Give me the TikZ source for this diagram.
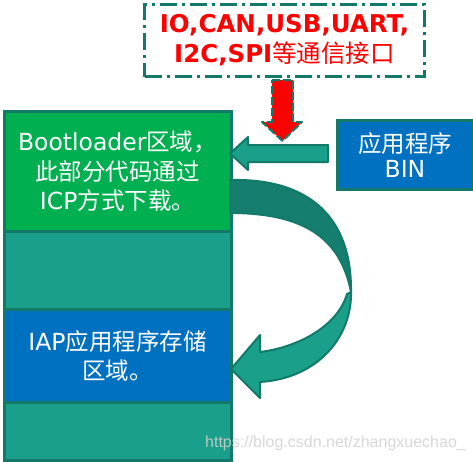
\documentclass[tikz,border=0pt]{standalone}
\usepackage{fontspec}
\setmainfont{DejaVu Sans}
\newfontfamily\cjk{Noto Sans CJK SC}
\newfontfamily\wmfont{Liberation Sans}
\definecolor{tealdark}{HTML}{137A69}
\definecolor{tealfill}{HTML}{199F8A}
\definecolor{tealcurve}{HTML}{167E6E}
\definecolor{memgreen}{HTML}{00AF50}
\definecolor{memblue}{HTML}{0070C0}
\tikzset{
  membox/.style={draw=tealdark, line width=3pt, anchor=north west, inner sep=0pt,
    minimum width=227pt, text=white, align=center,
    font=\fontsize{23.5}{29.5}\selectfont},
  blockarrow/.style={draw=tealdark, line width=2pt, line join=round},
}
\begin{document}
\begin{tikzpicture}[x=1pt,y=-1pt]
\useasboundingbox (0,0) rectangle (473,461);
% memory column
\node[membox, fill=memgreen, minimum height=119.5pt] (boot) at (2.5,110)
  {Bootloader{\cjk 区域，}\\{\cjk 此部分代码通过}\\ICP{\cjk 方式下载。}};
\node[membox, fill=tealfill, minimum height=78.5pt] (mid) at (2.5,229.5) {};
\node[membox, fill=memblue, minimum height=93pt] (iap) at (2.5,308)
  {IAP{\cjk 应用程序存储}\\{\cjk 区域。}};
\node[membox, fill=tealfill, minimum height=58pt] (low) at (2.5,401) {};
% BIN box
\node[draw=tealdark, line width=3pt, fill=memblue, anchor=north west, inner sep=0pt,
  minimum width=135pt, minimum height=69.5pt, text=white, align=center,
  font=\fontsize{23.5}{25}\selectfont] (bin) at (336,118.5)
  {{\cjk 应用程序}\\BIN};
% interface box
\node[draw=tealdark, line width=3pt, dash pattern=on 17pt off 5pt on 3pt off 5pt,
  anchor=north west, inner sep=0pt, minimum width=280pt, minimum height=72pt,
  text=red, align=center, font=\fontsize{24.5}{30}\selectfont] (ifc) at (143,3)
  {\textbf{IO,CAN,USB,UART,}\\\textbf{I2C,SPI}{\cjk 等通信接口}};
% red arrow
\filldraw[fill=red, draw=tealdark, line width=2pt, dash pattern=on 8pt off 3pt, line join=round]
  (272,80) -- (293,80) -- (293,122) -- (302,122) -- (282.5,141) -- (262,122) -- (272,122) -- cycle;
% left arrow from BIN
\filldraw[blockarrow, fill=tealfill]
  (328,145) -- (248,145) -- (248,137) -- (230,153.5) -- (248,170) -- (248,162) -- (328,162) -- cycle;
% curved arrow
\filldraw[blockarrow, fill=tealcurve]
  (230,180) .. controls (312,178) and (352,220) .. (351,292)
  .. controls (340,235) and (300,213) .. (230,213) -- cycle;
\filldraw[blockarrow, fill=tealfill]
  (351,292) .. controls (352,335) and (320,378) .. (260,382)
  -- (260,398) -- (231,369) -- (260,335) -- (260,352)
  .. controls (300,347) and (338,325) .. (347,294) -- cycle;
% watermark
\node[anchor=base west, inner sep=0pt, text=black!18, opacity=0.85,
  font=\wmfont\fontsize{16}{18}\selectfont] (wm) at (205,447)
  {https://blog.csdn.net/zhangxuechao\_};
\end{tikzpicture}
\end{document}
